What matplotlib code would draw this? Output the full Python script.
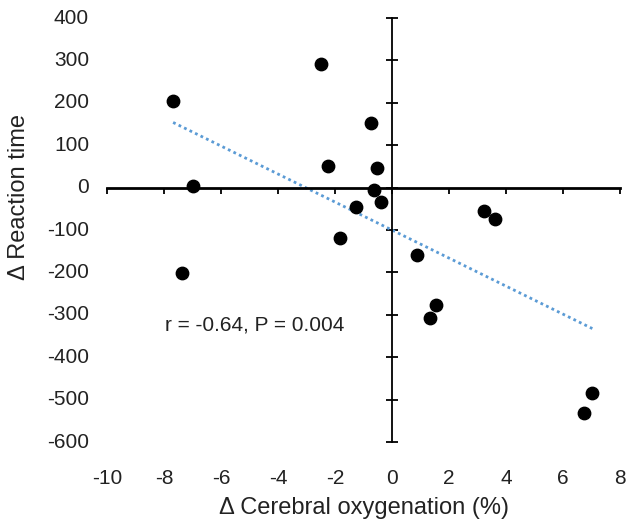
import numpy as np
import matplotlib
matplotlib.use("Agg")
import matplotlib.pyplot as plt
import matplotlib.transforms as mtransforms

plt.rcParams['font.family'] = ['Liberation Sans', 'DejaVu Sans']

# change in cerebral oxygenation (%) vs change in reaction time
oxygenation = [-7.68, -2.49, -6.98, -0.75, -2.25, -0.52, -0.63, -0.40, -1.25,
               -1.82, -7.38, 3.22, 3.60, 0.87, 1.56, 1.35, 7.03, 6.75]
reaction_time = [205, 292, 4, 153, 50, 46, -5, -34, -45,
                 -120, -201, -56, -75, -160, -276, -308, -485, -531]
x_ticks = [-10, -8, -6, -4, -2, 0, 2, 4, 6, 8]
y_ticks = [-600, -500, -400, -300, -200, -100, 0, 100, 200, 300, 400]
stats_text = "r = -0.64, P = 0.004"

fig = plt.figure(figsize=(6.27, 5.24), dpi=100)
ax = fig.add_axes([107 / 627, 1 - 442 / 524, 513 / 627, 424 / 524])

ax.scatter(oxygenation, reaction_time, s=80, color='black', zorder=3,
           clip_on=False)

# least-squares trend line over the data range
slope, intercept = np.polyfit(oxygenation, reaction_time, 1)
xs = np.array([min(oxygenation), max(oxygenation)])
ax.plot(xs, slope * xs + intercept, linestyle=(0, (1, 1.2)), color='#5b9bd5',
        linewidth=2, zorder=2)

ax.set_xlim(-10, 8)
ax.set_ylim(-600, 400)

# axes cross at the origin
for side in ['top', 'right']:
    ax.spines[side].set_visible(False)
ax.spines['left'].set_position(('data', 0))
ax.spines['bottom'].set_position(('data', 0))
ax.spines['left'].set_linewidth(1.3)
ax.spines['bottom'].set_linewidth(2)

ax.set_xticks(x_ticks)
ax.set_yticks(y_ticks)
ax.tick_params(axis='x', direction='out', length=4, width=1.3,
               labelbottom=False)
ax.tick_params(axis='y', direction='inout', length=8, width=1.3,
               labelleft=False)

# tick labels sit on the outer edges of the plot area
tx = mtransforms.blended_transform_factory(ax.transData, ax.transAxes)
for v in x_ticks:
    ax.text(v, -36 / 424, str(v), transform=tx, ha='center', va='center',
            fontsize=15, color='#222222')
ty = mtransforms.blended_transform_factory(ax.transAxes, ax.transData)
for v in y_ticks:
    ax.text(-18 / 513, v, str(v), transform=ty, ha='right', va='center',
            fontsize=15, color='#222222')

ax.text(-7.98, -324, stats_text, fontsize=15, color='#222222', va='center')

fig.text(364 / 627, 1 - 508 / 524, '\u0394 Cerebral oxygenation (%)',
         ha='center', va='center', fontsize=17, color='#222222')
fig.text(19 / 627, 1 - 197 / 524, '\u0394 Reaction time', rotation=90,
         ha='center', va='center', fontsize=17, color='#222222')

fig.savefig('out.png', dpi=100)
